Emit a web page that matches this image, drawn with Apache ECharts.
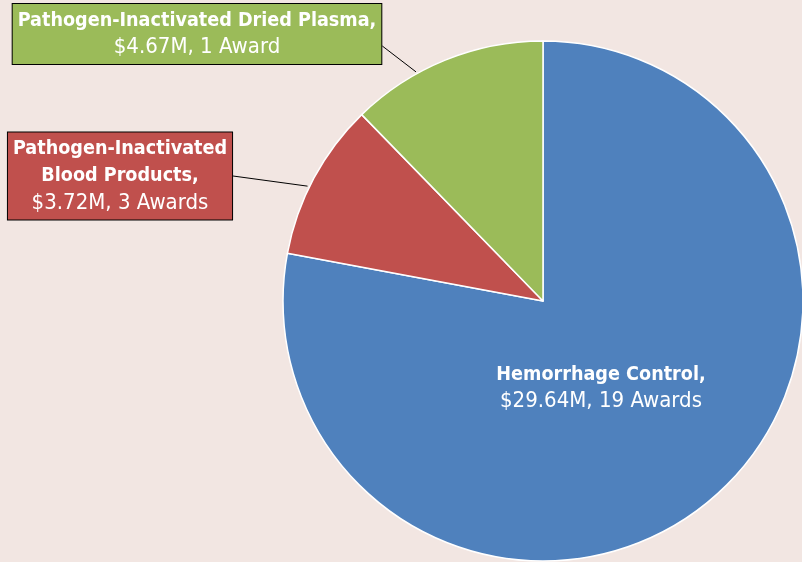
<!DOCTYPE html>
<html>
<head>
<meta charset="utf-8">
<script src="https://cdn.jsdelivr.net/npm/echarts@6/dist/echarts.min.js"></script>
<style>
  html, body { margin: 0; padding: 0; background: #f2e6e2; }
  #chart { width: 802px; height: 562px; }
</style>
</head>
<body>
<div id="chart"></div>
<script>
// data
const categories = ['Hemorrhage Control', 'Pathogen-Inactivated\nBlood Products', 'Pathogen-Inactivated Dried Plasma'];
const amounts = [29.64, 3.72, 4.67];
const awards = [19, 3, 1];
const colors = ['#4f81bd', '#c0504d', '#9bbb59'];

// label box centers, leader line angle on the pie edge and y shift of the line start
const labelPos = [[601, 388], [120, 176], [197, 34]];
const lineAngle = [null, 154, 119];
const lineShift = [0, 0, 12];

const CX = 543, CY = 301, R = 260;
const FONT = '"DejaVu Sans Condensed", "DejaVu Sans", sans-serif';

const chart = echarts.init(document.getElementById('chart'));

const pieData = categories.map((name, i) => {
  const item = {
    name: name,
    value: amounts[i],
    itemStyle: { color: colors[i] }
  };
  if (i === 0) {
    item.label = { position: 'inside', backgroundColor: 'transparent', borderWidth: 0 };
    item.labelLine = { show: false };
  } else {
    item.label = { backgroundColor: colors[i] };
  }
  return item;
});

const option = {
  backgroundColor: '#f2e6e2',
  animation: false,
  series: [
    {
      type: 'pie',
      center: [CX, CY],
      radius: R,
      startAngle: 90,
      clockwise: true,
      itemStyle: { borderColor: '#ffffff', borderWidth: 1.5 },
      label: {
        show: true,
        position: 'outside',
        formatter: function (p) {
          const i = p.dataIndex;
          const lines = p.name.split('\n');
          const head = lines.map((s, k) => '{b|' + s + (k === lines.length - 1 ? ',' : '') + '}').join('\n');
          const a = awards[i] === 1 ? ' Award' : ' Awards';
          return head + '\n{v|$' + amounts[i].toFixed(2) + 'M, ' + awards[i] + a + '}';
        },
        color: '#ffffff',
        borderColor: '#000000',
        borderWidth: 1,
        padding: [3, 5, 3, 5],
        align: 'center',
        rich: {
          b: { fontFamily: FONT, fontWeight: 'bold', fontSize: 19.6, lineHeight: 27, color: '#ffffff', align: 'center' },
          v: { fontFamily: FONT, fontSize: 22, lineHeight: 27, color: '#ffffff', align: 'center' }
        }
      },
      labelLine: {
        show: true,
        lineStyle: { color: '#000000', width: 1 }
      },
      labelLayout: function (params) {
        const i = params.dataIndex;
        const pos = labelPos[i];
        const out = { x: pos[0], y: pos[1], align: 'center', verticalAlign: 'middle' };
        if (lineAngle[i] !== null) {
          const w = params.labelRect.width;
          const rad = lineAngle[i] * Math.PI / 180;
          out.labelLinePoints = [
            [CX + (R + 2) * Math.cos(rad), CY - (R + 2) * Math.sin(rad)],
            [pos[0] + w / 2, pos[1] + lineShift[i]],
            [pos[0] + w / 2, pos[1] + lineShift[i]]
          ];
        }
        return out;
      },
      data: pieData
    }
  ]
};

chart.setOption(option);
</script>
</body>
</html>
